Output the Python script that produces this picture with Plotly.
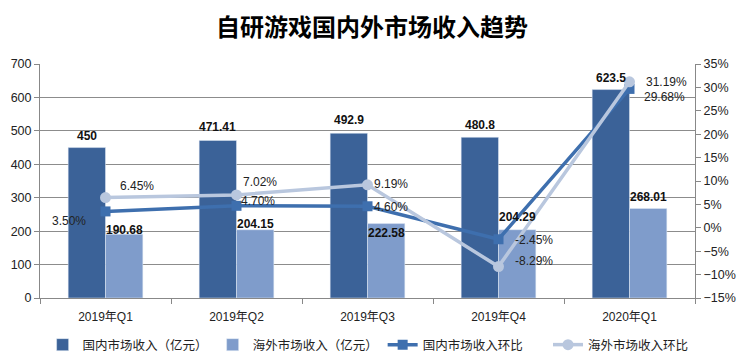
import plotly.graph_objects as go

categories = ["2019年Q1", "2019年Q2", "2019年Q3", "2019年Q4", "2020年Q1"]
domestic_rev = [450, 471.41, 492.9, 480.8, 623.5]
overseas_rev = [190.68, 204.15, 222.58, 204.29, 268.01]
domestic_qoq = [3.50, 4.70, 4.60, -2.45, 29.68]
overseas_qoq = [6.45, 7.02, 9.19, -8.29, 31.19]

domestic_rev_labels = ["450", "471.41", "492.9", "480.8", "623.5"]
overseas_rev_labels = ["190.68", "204.15", "222.58", "204.29", "268.01"]
domestic_qoq_labels = ["3.50%", "4.70%", "4.60%", "-2.45%", "29.68%"]
overseas_qoq_labels = ["6.45%", "7.02%", "9.19%", "-8.29%", "31.19%"]

# label placement (pixel offsets from the mark)
dom_off = [(-18, -10, "right"), (2, 5, "left"), (4, -1, "left"), (14, -1, "left"), (12, -8, "left")]
ovs_off = [(12, 12, "left"), (4, 13, "left"), (4, 1, "left"), (14, 6, "left"), (14, 0, "left")]
dom_bar_dy = [12, 13, 13, 12, 12]
ovs_bar_dy = [4, 6, -9, 13, 11]
BAR_DX = 19

FONT = "Liberation Sans, Noto Sans CJK SC, sans-serif"
CJK = "Noto Sans CJK SC, sans-serif"
C_DARK = "#3b6298"
C_LIGHT = "#7f9ccb"
C_LINE1 = "#3e6fae"
C_LINE2 = "#b9c7de"

fig = go.Figure()
fig.add_trace(go.Bar(
    x=categories, y=domestic_rev, name="国内市场收入（亿元）",
    marker_color=C_DARK, legend="legend",
))
fig.add_trace(go.Bar(
    x=categories, y=overseas_rev, name="海外市场收入（亿元）",
    marker_color=C_LIGHT, legend="legend",
))
fig.add_trace(go.Scatter(
    x=categories, y=domestic_qoq, name="国内市场收入环比", yaxis="y2",
    mode="lines+markers", line=dict(color=C_LINE1, width=3.5),
    marker=dict(symbol="square", size=10, color=C_LINE1),
    cliponaxis=False, legend="legend",
))
fig.add_trace(go.Scatter(
    x=categories, y=overseas_qoq, name="海外市场收入环比", yaxis="y2",
    mode="lines+markers", line=dict(color=C_LINE2, width=3.5),
    marker=dict(symbol="circle", size=11, color=C_LINE2),
    cliponaxis=False, legend="legend2",
))

annotations = []
for vals, labels, dys, dx in ((domestic_rev, domestic_rev_labels, dom_bar_dy, -BAR_DX),
                              (overseas_rev, overseas_rev_labels, ovs_bar_dy, BAR_DX)):
    for c, v, t, dy in zip(categories, vals, labels, dys):
        annotations.append(dict(
            x=c, y=v, xref="x", yref="y", text=t, showarrow=False,
            xanchor="center", yanchor="middle", xshift=dx, yshift=dy,
            font=dict(size=12, color="#111", family=FONT, weight="bold"),
        ))
for vals, labels, offs in ((domestic_qoq, domestic_qoq_labels, dom_off),
                           (overseas_qoq, overseas_qoq_labels, ovs_off)):
    for c, v, t, (dx, dy, anc) in zip(categories, vals, labels, offs):
        annotations.append(dict(
            x=c, y=v, xref="x", yref="y2", text=t, showarrow=False,
            xanchor=anc, yanchor="middle", xshift=dx, yshift=dy,
            font=dict(size=12, color="#222", family=FONT),
        ))

legend_common = dict(orientation="h", xanchor="left", yref="container",
                     y=1 - 345 / 364, yanchor="middle",
                     font=dict(size=12.5, color="#222", family=CJK), itemwidth=30,
                     traceorder="normal", bgcolor="rgba(0,0,0,0)")

fig.update_layout(
    width=744, height=364,
    margin=dict(l=40, r=49, t=64, b=66, autoexpand=False),
    paper_bgcolor="white", plot_bgcolor="white",
    font=dict(family=FONT, size=12, color="#222"),
    title=dict(text="<b>自研游戏国内外市场收入趋势</b>", x=0.5, xanchor="center",
               y=1 - 28 / 364, yanchor="middle", font=dict(size=24, color="#000", family=CJK)),
    barmode="group", bargap=0.43, bargroupgap=0,
    xaxis=dict(type="category", showline=True, linecolor="#888", ticks="outside",
               tickson="boundaries", ticklen=5, tickcolor="#888", ticklabelstandoff=8,
               tickfont=dict(size=12, color="#222")),
    yaxis=dict(range=[0, 700], dtick=100, showgrid=True, gridcolor="#8c8c8c", gridwidth=1,
               showline=True, linecolor="#888", ticks="outside", ticklen=5, tickcolor="#888",
               tickfont=dict(size=12.5, color="#222"), zeroline=False),
    yaxis2=dict(range=[-15, 35], dtick=5, overlaying="y", side="right", ticksuffix="%",
                showgrid=False, showline=True, linecolor="#888", ticks="outside", ticklen=5,
                tickcolor="#888", tickfont=dict(size=12.5, color="#222"), zeroline=False),
    legend=dict(x=0.004, **legend_common),
    legend2=dict(x=0.7756, **legend_common),
    annotations=annotations,
    showlegend=True,
)

fig.write_html("out.html", config={"displayModeBar": False},
               post_script="document.body.style.margin='0';")
